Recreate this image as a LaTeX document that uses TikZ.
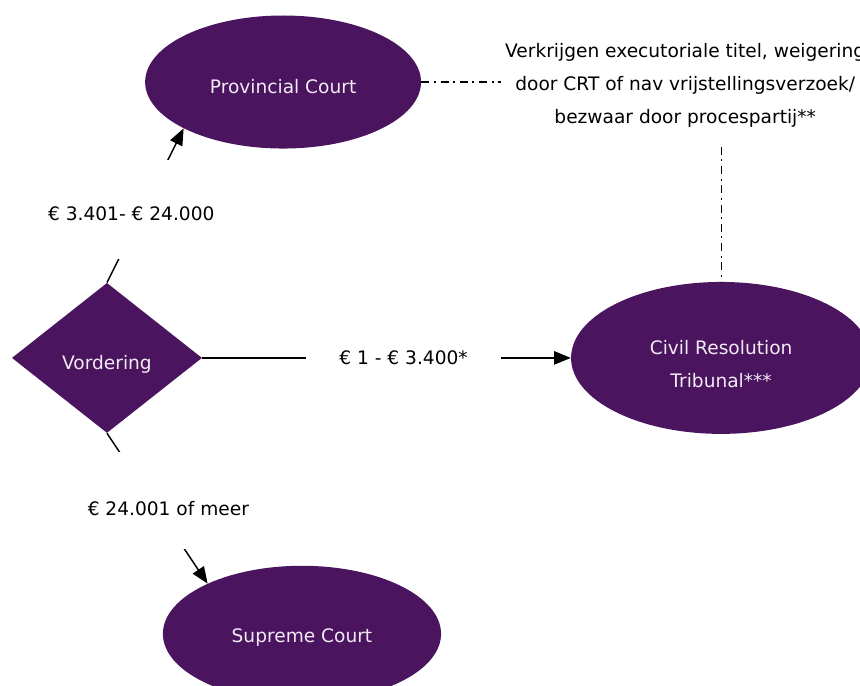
\documentclass[tikz,border=0pt]{standalone}
\usepackage{fontspec}
\setmainfont{DejaVu Sans}
\usetikzlibrary{arrows.meta, positioning, shapes.geometric}
\definecolor{vio}{RGB}{74,21,94}
\definecolor{lav}{RGB}{242,234,244}

\begin{document}
\begin{tikzpicture}[node distance=7.3cm,
    every node/.style={font=\fontsize{14}{24.75}\selectfont},
    court/.style={ellipse, fill=vio, text=lav, inner sep=0pt},
    low/.style={text height=17.5pt, text depth=0pt},
    gap/.style={fill=white, inner sep=0pt},
    arr/.style={line width=1.1pt, -{Triangle[length=12.5pt, width=10pt]}},
    link/.style={line width=0.8pt, dash pattern=on 6pt off 3.5pt on 1.5pt off 3.5pt}]
    \useasboundingbox (0,0) rectangle (22.755,-18.15);

    \node[diamond, fill=vio, text=lav, low, minimum width=5.03cm, minimum height=3.97cm, inner sep=0pt] (vord) at (2.83,-9.47) {Vordering};
    \node[court, low, above of=vord, xshift=4.66cm, minimum width=7.3cm, minimum height=3.52cm] (prov) {Provincial Court};
    \node[court, right of=vord, xshift=8.95cm, minimum width=7.94cm, minimum height=4.02cm, align=center, text height=44.6pt, text depth=0pt] (crt) {Civil Resolution\\ Tribunal***};
    \node[court, below of=vord, xshift=5.16cm, minimum width=7.36cm, minimum height=3.6cm, text height=13pt, text depth=0pt] (sup) {Supreme Court};
    \node[right of=prov, xshift=3.34cm, yshift=-0.08cm, align=center, inner sep=0.1cm] (note) {Verkrijgen executoriale titel, weigering\\ door CRT of nav vrijstellingsverzoek/\\ bezwaar door procespartij**};

    \draw[arr] (vord.north) -- node[gap, pos=0.475, xshift=-0.32cm, text height=1.61cm, text depth=1.0cm] {€ 3.401- € 24.000} (prov.205);
    \draw[arr] (vord.east) -- node[gap, xshift=0.45cm, minimum width=5.16cm] {€ 1 - € 3.400*} (crt.west);
    \draw[arr] (vord.south) -- node[gap, pos=0.449, xshift=0.43cm, text height=1.66cm, text depth=0.9cm] {€ 24.001 of meer} (sup.152);

    \draw[link] (prov.east) -- (prov.east -| note.west);
    \draw[link, shorten <=0.42cm] (note.south -| crt.north) -- (crt.north);
\end{tikzpicture}
\end{document}
